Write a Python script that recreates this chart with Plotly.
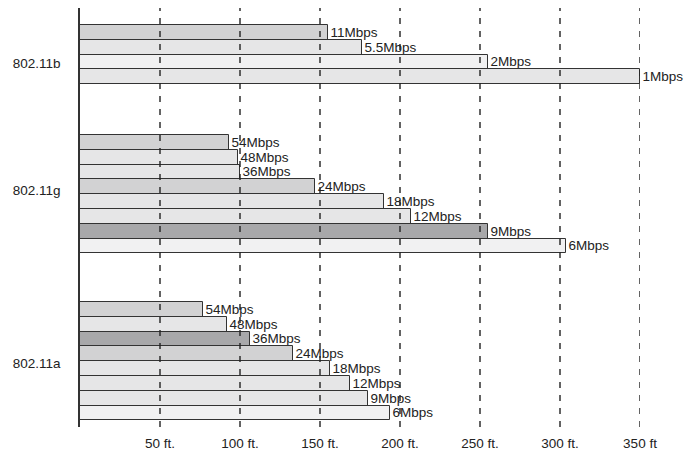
import plotly.graph_objects as go

# ---- data ----
groups = ["802.11b", "802.11g", "802.11a"]
rates_b = ["11Mbps", "5.5Mbps", "2Mbps", "1Mbps"]
range_b = [155, 176, 255, 350]
rates_g = ["54Mbps", "48Mbps", "36Mbps", "24Mbps", "18Mbps", "12Mbps", "9Mbps", "6Mbps"]
range_g = [93, 99, 100, 147, 190, 207, 255, 304]
rates_a = ["54Mbps", "48Mbps", "36Mbps", "24Mbps", "18Mbps", "12Mbps", "9Mbps", "6Mbps"]
range_a = [77, 92, 106, 133, 156, 169, 180, 194]
tick_vals = [50, 100, 150, 200, 250, 300, 350]
tick_text = ["50 ft.", "100 ft.", "150 ft.", "200 ft.", "250 ft.", "300 ft.", "350 ft"]

# ---- styling / layout ----
C1, C2, C3, C4 = "#d2d2d3", "#e6e6e7", "#f1f1f2", "#a8a8aa"
colors_b = [C1, C2, C3, C2]
colors_g = [C1, C2, C2, C1, C2, C2, C4, C3]
colors_a = [C1, C2, C4, C1, C2, C2, C2, C3]
group_start = [1.15, 8.58, 19.86]      # slot offsets of each group (layout)
label_pos = [3.72, 12.3, 24.0]         # group label positions (layout)

FONT = "Liberation Sans, Arial, sans-serif"
fig = go.Figure()
for start, rates, vals, cols in zip(group_start, [rates_b, rates_g, rates_a],
                                    [range_b, range_g, range_a],
                                    [colors_b, colors_g, colors_a]):
    ys = [start + i + 0.5 for i in range(len(vals))]
    fig.add_trace(go.Bar(
        x=vals, y=ys, orientation="h", width=1,
        marker=dict(color=cols, line=dict(color="#333333", width=1)),
        text=rates, textposition="outside", constraintext="none",
        cliponaxis=False,
        textfont=dict(family=FONT, size=13.5, color="#222222"),
        showlegend=False, hoverinfo="skip",
    ))

# dashed gridlines drawn over the bars, one per tick value
for tv in tick_vals:
    fig.add_shape(type="line", xref="x", yref="paper", x0=tv, x1=tv, y0=0, y1=1,
                  layer="above", line=dict(color="#222222", width=1.4, dash="6px,7px"))

fig.update_layout(
    width=685, height=452,
    margin=dict(l=80, r=45, t=8, b=25, autoexpand=False),
    paper_bgcolor="white", plot_bgcolor="white",
    font=dict(family=FONT, size=13.5, color="#222222"),
    bargap=0,
    xaxis=dict(
        range=[0, 350], tickvals=tick_vals, ticktext=tick_text,
        showgrid=False, zeroline=False, showline=False, ticks="outside", ticklen=4,
        tickcolor="rgba(0,0,0,0)", tickfont=dict(family=FONT, size=13.5, color="#222222"),
        automargin=False,
    ),
    yaxis=dict(
        range=[28.31, 0], tickvals=label_pos, ticktext=groups,
        showgrid=False, zeroline=False, showline=True, linecolor="#333333",
        linewidth=1.5, ticks="outside", ticklen=15, tickcolor="rgba(0,0,0,0)",
        tickfont=dict(family=FONT, size=13.5, color="#222222"),
        automargin=False,
    ),
)
fig.write_html(
    "out.html",
    config={"displayModeBar": False},
    post_script="document.body.style.margin='0';document.body.style.overflow='hidden';",
)
